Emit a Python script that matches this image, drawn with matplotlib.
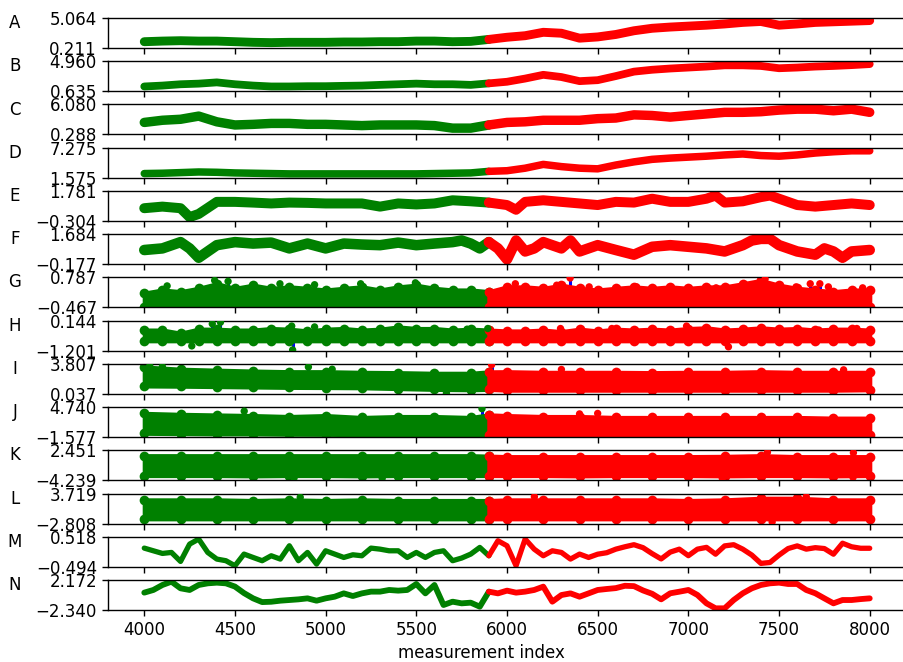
import numpy as np
import matplotlib
matplotlib.use("Agg")
import matplotlib.pyplot as plt

SPLIT = 5900  # green before, red after

labels = list("ABCDEFGHIJKLMN")
y_min = [0.211, 0.635, 0.288, 1.575, -0.304, -0.177, -0.467, -1.201, 0.037, -1.577, -4.239, -2.808, -0.494, -2.340]
y_max = [5.064, 4.960, 6.080, 7.275, 1.781, 1.684, 0.787, 0.144, 3.807, 4.740, 2.451, 3.719, 0.518, 2.172]

idx100 = np.arange(4000, 8001, 100)
idx50 = np.arange(4000, 8001, 50)
idx_coarse = [4000, 4200, 4400, 4600, 4800, 5000, 5200, 5400, 5600, 5800, 5900,
              6000, 6200, 6400, 6600, 6800, 7000, 7200, 7400, 7600, 7800, 8000]

# smooth channels (read at every 100 / 50 samples)
A = [1.23, 1.33, 1.39, 1.33, 1.33, 1.23, 1.13, 1.08, 1.13, 1.13,
     1.13, 1.18, 1.18, 1.23, 1.23, 1.33, 1.33, 1.23, 1.28, 1.60,
     1.95, 2.20, 2.75, 2.60, 1.80, 2.00, 2.40, 3.00, 3.40, 3.60,
     3.75, 3.90, 4.10, 4.35, 4.50, 3.90, 4.10, 4.35, 4.45, 4.55, 4.65]
B = [1.32, 1.45, 1.64, 1.73, 1.91, 1.64, 1.45, 1.32, 1.32, 1.36,
     1.36, 1.41, 1.45, 1.55, 1.64, 1.73, 1.64, 1.64, 1.55, 1.77,
     2.00, 2.46, 3.00, 2.68, 2.09, 2.23, 2.82, 3.46, 3.73, 3.91,
     4.05, 4.19, 4.37, 4.37, 4.28, 3.95, 4.05, 4.19, 4.28, 4.40, 4.55]
C = [2.61, 3.03, 3.22, 3.83, 2.73, 2.12, 2.24, 2.42, 2.42, 2.24,
     2.24, 2.12, 2.00, 2.12, 2.12, 2.12, 2.00, 1.51, 1.51, 2.12,
     2.61, 2.73, 3.03, 3.03, 3.03, 3.34, 3.46, 4.07, 3.95, 3.64,
     3.95, 4.25, 4.56, 4.56, 4.68, 4.99, 5.17, 5.17, 4.86, 5.17, 4.56]
D = [2.36, 2.42, 2.54, 2.66, 2.60, 2.48, 2.42, 2.36, 2.30, 2.30,
     2.30, 2.30, 2.30, 2.30, 2.30, 2.30, 2.36, 2.42, 2.48, 2.78,
     2.90, 3.38, 4.10, 3.68, 3.38, 3.26, 3.98, 4.58, 5.06, 5.30,
     5.48, 5.66, 5.90, 6.08, 5.78, 5.66, 5.90, 6.26, 6.50, 6.68, 6.68]

E_x = [4000, 4100, 4200, 4250, 4300, 4400, 4500, 4600, 4700, 4800, 4900, 5000, 5100, 5200, 5300,
       5400, 5500, 5600, 5700, 5800, 5900, 6000, 6050, 6100, 6200, 6300, 6400, 6500, 6600, 6700,
       6800, 6900, 7000, 7100, 7150, 7200, 7300, 7400, 7450, 7500, 7600, 7700, 7800, 7900, 8000]
E = [0.58, 0.69, 0.58, -0.04, 0.18, 1.02, 1.02, 0.97, 0.91, 0.97, 0.95, 0.91, 0.91, 0.91, 0.69,
     0.91, 0.84, 0.91, 1.13, 1.06, 0.97, 0.80, 0.47, 1.02, 1.13, 1.02, 0.91, 0.80, 1.02, 0.97,
     1.24, 1.02, 1.02, 1.24, 1.46, 0.97, 1.06, 1.35, 1.46, 1.24, 0.80, 0.69, 0.80, 0.91, 0.80]

F_x = [4000, 4100, 4200, 4250, 4300, 4400, 4500, 4600, 4700, 4800, 4900, 5000, 5100, 5200, 5300,
       5400, 5500, 5600, 5700, 5750, 5800, 5850, 5900, 5950, 6000, 6050, 6100, 6150, 6200, 6300,
       6350, 6400, 6500, 6600, 6700, 6800, 6900, 7000, 7100, 7200, 7300, 7350, 7400, 7450, 7500,
       7600, 7700, 7750, 7800, 7850, 7900, 8000]
F = [0.70, 0.80, 1.19, 0.80, 0.22, 1.00, 1.19, 1.10, 1.16, 0.80, 1.10, 0.80, 1.10, 1.04, 1.00,
     1.16, 1.00, 1.10, 1.19, 1.29, 1.10, 0.80, 1.19, 0.80, 0.12, 1.29, 0.61, 0.80, 1.19, 0.80,
     1.29, 0.61, 1.00, 0.70, 0.41, 0.90, 1.00, 0.90, 0.80, 0.61, 1.00, 1.29, 1.39, 1.39, 1.00,
     0.61, 0.41, 0.80, 0.61, 0.22, 0.61, 0.70]

M = [0.135, 0.045, -0.044, -0.011, -0.314, 0.27, 0.44, -0.011, -0.235, -0.29,
     -0.46, -0.067, -0.18, -0.29, -0.123, -0.235, 0.214, -0.29, -0.011, -0.404,
     0.045, -0.067, -0.18, -0.09, -0.123, 0.135, 0.10, 0.045, 0.045, -0.18,
     -0.011, -0.18, -0.011, 0.045, -0.29, -0.20, -0.067, 0.158, -0.123, 0.383,
     0.214, -0.46, 0.44, 0.10, -0.123, 0.045, -0.011, -0.235, -0.067, -0.18,
     -0.07, -0.02, 0.10, 0.18, 0.25, 0.15, -0.05, -0.23, 0.0, 0.10,
     -0.12, 0.10, 0.16, -0.07, 0.21, 0.25, 0.10, -0.10, -0.38, -0.35,
     -0.10, 0.12, 0.21, 0.10, 0.15, 0.12, -0.07, 0.30, 0.18, 0.13, 0.13]
N = [0.27, 0.67, 1.42, 1.92, 0.92, 0.67, 1.42, 1.67, 1.77, 1.67,
     1.18, 0.20, -0.59, -1.15, -1.10, -0.94, -0.84, -0.74, -0.59, -0.94,
     -0.59, -0.34, 0.16, -0.24, 0.16, 0.42, 0.42, 0.67, 0.57, 0.67,
     1.57, 0.16, 1.42, -1.59, -1.09, -1.34, -1.24, -1.84, 0.42, 0.16,
     0.57, 0.27, 0.42, 0.67, 1.17, -1.09, -0.09, 0.16, -0.34, 0.16,
     0.67, 0.82, 0.95, 1.30, 1.25, 0.60, 0.10, -0.74, 0.17, 0.41,
     0.67, -0.08, -1.34, -2.09, -2.09, -0.84, 0.17, 0.92, 1.42, 1.67,
     1.77, 1.57, 1.57, 0.67, 0.17, -0.59, -1.34, -0.84, -0.84, -0.70, -0.59]

# noisy channels: lower / upper edge of the point cloud
G_lo = -0.45
G_hi = [0.13, 0.26, 0.19, 0.33, 0.52, 0.33, 0.46, 0.33, 0.39, 0.33,
        0.26, 0.33, 0.39, 0.26, 0.39, 0.46, 0.33, 0.26, 0.26, 0.19,
        0.39, 0.39, 0.33, 0.46, 0.33, 0.26, 0.33, 0.39, 0.33, 0.39,
        0.33, 0.39, 0.39, 0.52, 0.66, 0.46, 0.33, 0.26, 0.19, 0.26, 0.26]
H_lo = -0.76
H_hi = [-0.28, -0.28, -0.42, -0.24, -0.24, -0.28, -0.28, -0.21, -0.24, -0.32,
        -0.24, -0.21, -0.28, -0.24, -0.14, -0.21, -0.21, -0.28, -0.24, -0.28,
        -0.32, -0.32, -0.28, -0.35, -0.24, -0.32, -0.24, -0.28, -0.24, -0.28,
        -0.21, -0.18, -0.28, -0.24, -0.18, -0.24, -0.21, -0.28, -0.24, -0.24, -0.28]
I_lo = [1.03, 1.00, 0.95, 0.90, 0.85, 0.83, 0.80, 0.70, 0.60, 0.55, 0.60,
        0.50, 0.50, 0.50, 0.50, 0.50, 0.50, 0.50, 0.50, 0.50, 0.50, 0.55]
I_hi = [3.41, 3.13, 3.01, 2.90, 2.82, 2.82, 2.74, 2.70, 2.62, 2.62, 2.80,
        2.82, 2.74, 2.74, 2.74, 2.70, 2.74, 2.74, 2.82, 2.74, 2.74, 2.74]
J_lo = [-0.78, -0.85, -0.91, -0.91, -0.98, -1.00, -1.05, -1.05, -1.05, -1.05, -1.05,
        -1.05, -1.05, -1.05, -1.05, -1.05, -1.05, -1.05, -1.05, -1.05, -1.05, -1.05]
J_hi = [3.41, 3.21, 3.08, 2.95, 2.75, 2.95, 2.55, 2.75, 2.75, 2.55, 3.10,
        2.95, 2.75, 2.75, 2.55, 2.55, 2.55, 2.55, 2.55, 2.55, 2.41, 2.41]
K_lo = [-3.18, -3.18, -3.18, -3.25, -3.18, -3.18, -3.25, -3.18, -3.18, -3.18, -3.18,
        -3.18, -3.18, -3.25, -3.18, -3.18, -3.18, -3.25, -3.18, -3.18, -3.25, -3.18]
K_hi = [1.25, 1.25, 1.25, 1.25, 1.25, 1.25, 1.25, 1.25, 1.25, 1.25, 1.15,
        1.04, 1.04, 1.04, 1.04, 1.04, 1.04, 1.10, 1.25, 1.04, 1.04, 1.04]
L_lo = [-1.78, -1.78, -1.78, -1.78, -1.78, -1.78, -1.78, -1.78, -1.78, -1.78, -1.78,
        -1.78, -1.78, -1.78, -1.78, -1.78, -1.78, -1.78, -1.78, -1.78, -1.78, -1.78]
L_hi = [2.34, 2.34, 2.34, 2.20, 2.34, 2.20, 2.34, 2.20, 2.20, 2.20, 2.20,
        2.34, 2.34, 2.34, 2.34, 2.34, 2.20, 2.34, 2.69, 2.69, 2.34, 2.34]

# isolated outliers (index, value)
G_spk_x = [4126, 4388, 4462, 4748, 4939, 5193, 5495, 6046, 6274, 6348, 6453, 6715, 7153, 7423, 7594, 7672, 7725, 7772, 7961]
G_spk_y = [0.43, 0.66, 0.62, 0.52, 0.48, 0.52, 0.56, 0.52, 0.46, 0.76, 0.39, 0.39, 0.35, 0.72, 0.39, 0.52, 0.52, 0.39, 0.35]
H_spk_x = [4262, 4375, 4420, 4813, 4818, 4939, 5780, 5894, 6295, 6578, 6990, 7213, 7221, 7720, 7929]
H_spk_y = [-0.99, 0.00, 0.07, -0.10, -1.17, -0.14, -0.24, -0.21, -0.21, -0.21, -0.10, -0.30, -1.03, -0.28, -0.21]
I_spk_x = [4030, 4100, 4905, 5036, 5666, 5915, 6300, 7856]
I_spk_y = [3.53, 3.45, 3.41, 3.13, 0.12, 3.69, 3.10, 3.05]
J_spk_x = [4551, 5862, 6400, 6500]
J_spk_y = [3.88, 4.40, 3.30, 3.40]
K_spk_x = [4826, 5312, 5403, 7187, 7436, 7908, 7910]
K_spk_y = [-3.70, -3.80, -3.80, -3.80, 2.00, -3.60, 1.90]
L_spk_x = [4860, 6151, 7462, 7650]
L_spk_y = [2.90, 3.03, -2.46, 3.03]

smooth = {"A": (idx100, A, 6.4), "B": (idx100, B, 5.6), "C": (idx100, C, 6.8), "D": (idx100, D, 5.4),
          "E": (E_x, E, 7.2), "F": (F_x, F, 7.6), "M": (idx50, M, 3.8), "N": (idx50, N, 4.2)}
noisy = {"G": (idx100, G_lo, G_hi, G_spk_x, G_spk_y),
         "H": (idx100, H_lo, H_hi, H_spk_x, H_spk_y),
         "I": (idx_coarse, I_lo, I_hi, I_spk_x, I_spk_y),
         "J": (idx_coarse, J_lo, J_hi, J_spk_x, J_spk_y),
         "K": (idx_coarse, K_lo, K_hi, K_spk_x, K_spk_y),
         "L": (idx_coarse, L_lo, L_hi, L_spk_x, L_spk_y)}

plt.rcParams["font.family"] = "DejaVu Sans"
plt.rcParams["font.size"] = 12

W, H = 904, 662
fig = plt.figure(figsize=(W / 100, H / 100), dpi=100)

left_px, right_px = 108, 906
top0, ax_h, pitch = 18, 30, 43.23

def parts(x):
    x = np.asarray(x)
    return [(x <= SPLIT, "green"), (x >= SPLIT, "red")]

for i, lab in enumerate(labels):
    top = top0 + i * pitch
    ax = fig.add_axes([left_px / W, 1 - (top + ax_h) / H, (right_px - left_px) / W, ax_h / H])
    lo_lim, hi_lim = y_min[i], y_max[i]

    if lab in smooth:
        x, y, lw = smooth[lab]
        x = np.asarray(x); y = np.asarray(y)
        for m, col in parts(x):
            ax.plot(x[m], y[m], color=col, lw=lw, solid_capstyle="round",
                    solid_joinstyle="round", zorder=2)
    else:
        x, lo, hi, sx, sy = noisy[lab]
        x = np.asarray(x)
        lo = np.broadcast_to(np.asarray(lo, dtype=float), x.shape)
        hi = np.asarray(hi)
        mid = (lo_lim + hi_lim) / 2
        ax.vlines(sx, mid, sy, color="blue", lw=2.2, zorder=1)
        for m, col in parts(x):
            ax.fill_between(x[m], lo[m], hi[m], color=col, lw=3, zorder=2)
            # rounded dotted edges of the cloud
            ax.plot(x[m], hi[m], "o", color=col, ms=7, mew=0, zorder=2)
            ax.plot(x[m], lo[m], "o", color=col, ms=7, mew=0, zorder=2)
        cols = ["green" if v <= SPLIT else "red" for v in sx]
        ax.scatter(sx, sy, s=28, c=cols, linewidths=0, zorder=3)

    ax.set_xlim(3800, 8200)
    ax.set_ylim(lo_lim, hi_lim)
    ax.set_yticks([lo_lim, hi_lim])
    ax.set_yticklabels([f"{lo_lim:.3f}".replace("-", "\u2212"),
                        f"{hi_lim:.3f}".replace("-", "\u2212")])
    ax.set_xticks(np.arange(4000, 8001, 500))
    ax.tick_params(length=4.5, width=1.0)
    for s in ax.spines.values():
        s.set_linewidth(1.0)
    if i < len(labels) - 1:
        ax.set_xticklabels([])
    ax.set_ylabel(lab, rotation=0, ha="center", va="center")
    ax.yaxis.set_label_coords((15 - left_px) / (right_px - left_px), 0.83)

fig.text(481 / W, 1 - 653 / H, "measurement index", ha="center", va="center", fontsize=12)

fig.savefig("out.png", dpi=100)
